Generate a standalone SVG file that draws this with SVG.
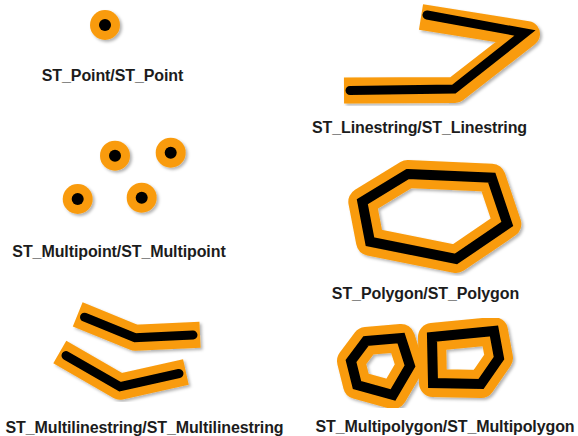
<svg xmlns="http://www.w3.org/2000/svg" width="578" height="436" viewBox="0 0 578 436">
  <style>
    .label { font-family: "Liberation Sans", Arial, sans-serif; font-weight: bold; font-size: 16px; letter-spacing: -0.1px; fill: #1c1c1c; text-anchor: middle; }
    .halo { fill: none; stroke: #F99B0C; stroke-width: 28; stroke-linejoin: round; }
    .halo-line { fill: none; stroke: #F99B0C; stroke-width: 26; stroke-linejoin: round; stroke-linecap: butt; }
    .core { fill: none; stroke: #000; stroke-width: 10; stroke-linejoin: miter; }
    .core-line { fill: none; stroke: #000; stroke-width: 9; stroke-linejoin: miter; stroke-linecap: round; }
    .dot-halo { fill: #F99B0C; }
    .dot-core { fill: #000; }
  </style>
  <defs>
    <filter id="shadow" x="-20%" y="-20%" width="140%" height="140%">
      <feDropShadow dx="2" dy="2" stdDeviation="1.6" flood-color="#000" flood-opacity="0.3"/>
    </filter>
  </defs>
  <rect width="578" height="436" fill="#fff"/>

  <!-- single point -->
  <g id="point">
    <g filter="url(#shadow)">
      <circle class="dot-halo" cx="105" cy="25" r="15"/>
      <circle class="dot-core" cx="105" cy="25" r="6"/>
    </g>
    <text class="label" x="112.5" y="80.5">ST_Point/ST_Point</text>
  </g>

  <!-- linestring -->
  <g id="linestring">
    <g filter="url(#shadow)">
      <polyline class="halo-line" points="344,90.6 455,90 527,34 421,17"/>
      <polyline class="core-line" points="350,90.5 454,89 525,33 427,15"/>
    </g>
    <text class="label" x="419.5" y="132.5">ST_Linestring/ST_Linestring</text>
  </g>

  <!-- multipoint -->
  <g id="multipoint">
    <g filter="url(#shadow)">
      <circle class="dot-halo" cx="115" cy="155.7" r="15"/>
      <circle class="dot-core" cx="115" cy="155.7" r="6"/>
      <circle class="dot-halo" cx="170.7" cy="152.7" r="15"/>
      <circle class="dot-core" cx="170.7" cy="152.7" r="6"/>
      <circle class="dot-halo" cx="77.7" cy="199" r="15"/>
      <circle class="dot-core" cx="77.7" cy="199" r="6"/>
      <circle class="dot-halo" cx="141.7" cy="197.7" r="15"/>
      <circle class="dot-core" cx="141.7" cy="197.7" r="6"/>
    </g>
    <text class="label" x="119" y="256.5">ST_Multipoint/ST_Multipoint</text>
  </g>

  <!-- polygon -->
  <g id="polygon">
    <g filter="url(#shadow)">
      <polygon class="halo" points="407.7,174 491.7,177.7 507.3,224 456,259 370,241.7 362.3,201.7"/>
      <polygon class="core" points="407.7,174 491.7,177.7 507.3,224 456,259 370,241.7 362.3,201.7"/>
    </g>
    <text class="label" x="425.5" y="299">ST_Polygon/ST_Polygon</text>
  </g>

  <!-- multilinestring -->
  <g id="multilinestring">
    <g filter="url(#shadow)">
      <polyline class="halo-line" points="77.7,314.4 135,337.7 200,334.7"/>
      <polyline class="halo-line" points="59.8,352 120,386.7 185.9,372"/>
      <polyline class="core-line" points="84.5,317.2 135,337.7 193,335"/>
      <polyline class="core-line" points="66,355.6 120,386.7 179,373.5"/>
    </g>
    <text class="label" x="144.5" y="433">ST_Multilinestring/ST_Multilinestring</text>
  </g>

  <!-- multipolygon -->
  <g id="multipolygon">
    <g filter="url(#shadow)">
      <polygon class="halo" points="366,341 401,338 410,366 393,395 357,385 351,361"/>
      <polygon class="halo" points="432,337 494,331 499,358 481,384 433,383"/>
      <polygon class="core" points="366,341 401,338 410,366 393,395 357,385 351,361"/>
      <polygon class="core" points="432,337 494,331 499,358 481,384 433,383"/>
    </g>
    <text class="label" x="445" y="432">ST_Multipolygon/ST_Multipolygon</text>
  </g>
</svg>
